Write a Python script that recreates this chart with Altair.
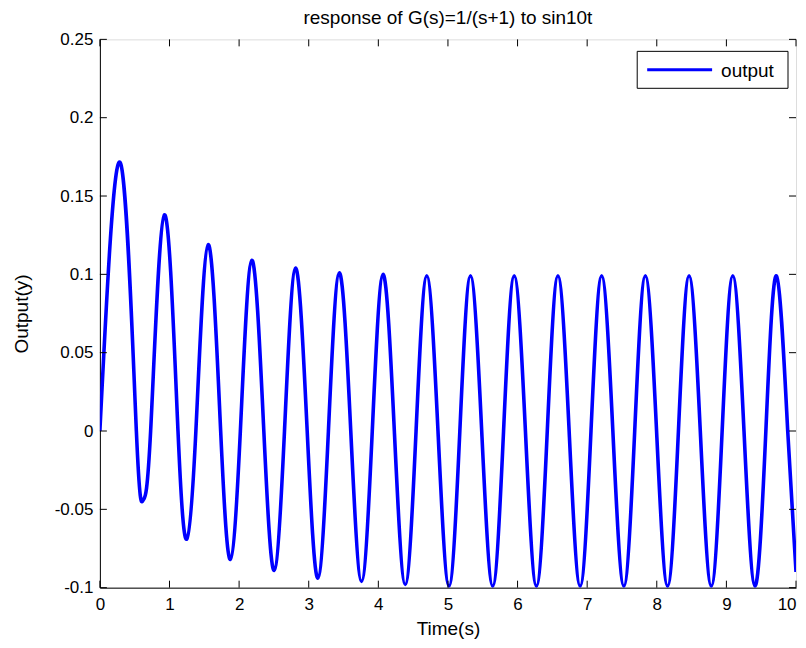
import altair as alt
import pandas as pd

# --- data (extrema and zero crossings) ---
t_vals = [0.0, 0.296, 0.524, 0.622, 0.729, 0.927, 1.122, 1.248, 1.379, 1.555,
          1.735, 1.875, 2.018, 2.183, 2.355, 2.503, 2.652, 2.811, 2.978, 3.131,
          3.283, 3.440, 3.604, 3.759, 3.913, 4.068, 4.230, 4.387, 4.542, 4.696,
          4.857, 5.015, 5.171, 5.324, 5.485, 5.643, 5.799, 5.952, 6.113, 6.271,
          6.427, 6.580, 6.741, 6.899, 7.055, 7.208, 7.369, 7.527, 7.683, 7.836,
          7.997, 8.155, 8.311, 8.464, 8.625, 8.783, 8.939, 9.092, 9.253, 9.411,
          9.567, 9.720, 9.881, 10.0]
y_vals = [0.0, 0.171, 0.0, -0.044, 0.0, 0.138, 0.0, -0.069, 0.0, 0.119,
          0.0, -0.082, 0.0, 0.109, 0.0, -0.089, 0.0, 0.104, 0.0, -0.094,
          0.0, 0.101, 0.0, -0.096, 0.0, 0.100, 0.0, -0.098, 0.0, 0.099,
          0.0, -0.099, 0.0, 0.099, 0.0, -0.099, 0.0, 0.099, 0.0, -0.099,
          0.0, 0.099, 0.0, -0.099, 0.0, 0.099, 0.0, -0.099, 0.0, 0.099,
          0.0, -0.099, 0.0, 0.099, 0.0, -0.099, 0.0, 0.099, 0.0, -0.099,
          0.0, 0.099, 0.0, -0.090]
series_name = ["output"]
x_ticks = [0, 1, 2, 3, 4, 5, 6, 7, 8, 9, 10]
y_ticks = [-0.1, -0.05, 0, 0.05, 0.1, 0.15, 0.2, 0.25]
title_text = "response of G(s)=1/(s+1) to sin10t"
x_title = "Time(s)"
y_title = "Output(y)"

W, H = 697, 549
FONT = "Liberation Sans"
TL = 7  # inward tick length

df = pd.DataFrame({"t": t_vals, "y": y_vals, "series": series_name[0]})
xt = pd.DataFrame({"v": x_ticks})
yt = pd.DataFrame({"v": y_ticks})
lg = pd.DataFrame({"label": series_name})

xscale = alt.Scale(domain=[0, 10], nice=False, zero=False)
yscale = alt.Scale(domain=[-0.1, 0.25], nice=False, zero=False)

xaxis = alt.Axis(values=x_ticks, tickSize=0, grid=False, labelFont=FONT,
                 labelFontSize=17, labelColor="black", labelPadding=9,
                 domainColor="black", title=x_title, titleFont=FONT,
                 titleFontSize=19, titleFontWeight="normal", titleColor="black",
                 titlePadding=7, labelFlush=False,
                 labelAlign={"condition": {"test": "datum.value == 10",
                                           "value": "right"},
                             "value": "center"},
                 labelExpr="toString(datum.value)")
yaxis = alt.Axis(values=y_ticks, tickSize=0, grid=False, labelFont=FONT,
                 labelFontSize=17, labelColor="black", labelPadding=7,
                 domainColor="black", title=y_title, titleFont=FONT,
                 titleFontSize=19, titleFontWeight="normal", titleColor="black",
                 titlePadding=23, labelExpr="toString(datum.value)",
                 labelFlush=False)

line = alt.Chart(df).mark_line(interpolate="natural", strokeWidth=3.6,
                               color="#0000ff", clip=True).encode(
    x=alt.X("t:Q", scale=xscale, axis=xaxis),
    y=alt.Y("y:Q", scale=yscale, axis=yaxis),
)

xt_bottom = alt.Chart(xt).mark_rule(color="black", strokeWidth=1).encode(
    x=alt.X("v:Q", scale=xscale), y=alt.value(H), y2=alt.value(H - TL))
xt_top = alt.Chart(xt).mark_rule(color="black", strokeWidth=1).encode(
    x=alt.X("v:Q", scale=xscale), y=alt.value(0), y2=alt.value(TL))
yt_left = alt.Chart(yt).mark_rule(color="black", strokeWidth=1).encode(
    y=alt.Y("v:Q", scale=yscale), x=alt.value(0), x2=alt.value(TL))
yt_right = alt.Chart(yt).mark_rule(color="black", strokeWidth=1).encode(
    y=alt.Y("v:Q", scale=yscale), x=alt.value(W), x2=alt.value(W - TL))

# legend box (top right, inside the axes)
LX0, LX1, LY0, LY1 = 538, 689, 12, 49
leg_box = alt.Chart(lg).mark_rect(fill="white", stroke="black",
                                  strokeWidth=1).encode(
    x=alt.value(LX0), x2=alt.value(LX1), y=alt.value(LY0), y2=alt.value(LY1))
leg_line = alt.Chart(lg).mark_rule(color="#0000ff", strokeWidth=3).encode(
    x=alt.value(LX0 + 10), x2=alt.value(LX0 + 75),
    y=alt.value((LY0 + LY1) / 2))
leg_text = alt.Chart(lg).mark_text(align="left", baseline="middle",
                                   font=FONT, fontSize=19,
                                   color="black").encode(
    x=alt.value(LX0 + 84), y=alt.value((LY0 + LY1) / 2 + 1),
    text="label:N")

chart = alt.layer(line, xt_bottom, xt_top, yt_left, yt_right,
                  leg_box, leg_line, leg_text).properties(
    width=W, height=H,
    title=alt.TitleParams(title_text, font=FONT, fontSize=19,
                          fontWeight="normal", color="black", anchor="middle",
                          offset=2),
    autosize=alt.AutoSizeParams(type="none"),
    padding={"left": 92, "top": 31, "right": 2, "bottom": 52},
).configure_view(stroke="black", strokeWidth=1).configure(background="white")

chart.save("out.html", embed_options={"renderer": "svg", "actions": False})
